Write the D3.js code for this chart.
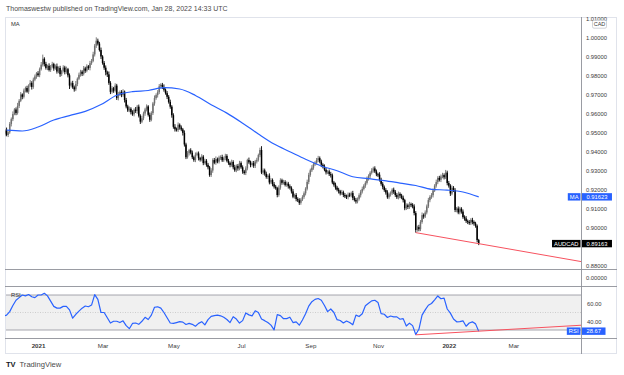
<!DOCTYPE html>
<html>
<head>
<meta charset="utf-8">
<script src="https://cdn.jsdelivr.net/npm/d3@7"></script>
<style>
  body { margin: 0; background: #fff; }
  text { font-family: "Liberation Sans", Arial, sans-serif; }
</style>
</head>
<body>
<div id="chart"></div>
<script>
// Daily AUDCAD closes, one per weekday starting 2020-12-02
const first_day = '2020-12-02';
const closes = [
    0.9495, 0.9512, 0.9488, 0.9502, 0.9546, 0.9571, 0.9598, 0.9622, 0.9604, 0.9641,
    0.9668, 0.9701, 0.9689, 0.9722, 0.9735, 0.9716, 0.9748, 0.9762, 0.9741, 0.9779,
    0.9796, 0.9812, 0.9803, 0.9834, 0.9858, 0.9889, 0.9862, 0.9841, 0.9852, 0.9830,
    0.9847, 0.9861, 0.9838, 0.9849, 0.9822, 0.9841, 0.9808, 0.9825, 0.9843, 0.9819,
    0.9834, 0.9802, 0.9748, 0.9761, 0.9739, 0.9728, 0.9756, 0.9784, 0.9805, 0.9821,
    0.9810, 0.9838, 0.9826, 0.9849, 0.9841, 0.9866, 0.9878, 0.9912, 0.9958, 0.9984,
    0.9969, 0.9935, 0.9901, 0.9867, 0.9842, 0.9818, 0.9807, 0.9762, 0.9715, 0.9734,
    0.9721, 0.9748, 0.9682, 0.9701, 0.9714, 0.9698, 0.9716, 0.9672, 0.9638, 0.9617,
    0.9626, 0.9608, 0.9597, 0.9621, 0.9614, 0.9637, 0.9589, 0.9558, 0.9576, 0.9601,
    0.9622, 0.9638, 0.9594, 0.9568, 0.9603, 0.9654, 0.9682, 0.9698, 0.9713, 0.9744,
    0.9752, 0.9741, 0.9726, 0.9708, 0.9689, 0.9662, 0.9637, 0.9592, 0.9531, 0.9518,
    0.9514, 0.9542, 0.9528, 0.9517, 0.9499, 0.9438, 0.9371, 0.9392, 0.9408, 0.9395,
    0.9371, 0.9356, 0.9384, 0.9391, 0.9366, 0.9358, 0.9374, 0.9340, 0.9352, 0.9331,
    0.9318, 0.9277, 0.9301, 0.9356, 0.9342, 0.9361, 0.9348, 0.9369, 0.9372, 0.9355,
    0.9366, 0.9378, 0.9352, 0.9341, 0.9330, 0.9346, 0.9318, 0.9302, 0.9325, 0.9312,
    0.9340, 0.9318, 0.9296, 0.9288, 0.9312, 0.9356, 0.9344, 0.9330, 0.9340, 0.9326,
    0.9348, 0.9357, 0.9382, 0.9409, 0.9290, 0.9302, 0.9284, 0.9267, 0.9274, 0.9238,
    0.9251, 0.9229, 0.9216, 0.9208, 0.9172, 0.9211, 0.9250, 0.9236, 0.9241, 0.9225,
    0.9232, 0.9218, 0.9210, 0.9191, 0.9163, 0.9172, 0.9151, 0.9144, 0.9131, 0.9148,
    0.9162, 0.9181, 0.9205, 0.9241, 0.9278, 0.9302, 0.9316, 0.9333, 0.9342, 0.9356,
    0.9366, 0.9348, 0.9331, 0.9322, 0.9305, 0.9291, 0.9296, 0.9282, 0.9276, 0.9238,
    0.9226, 0.9211, 0.9200, 0.9192, 0.9180, 0.9187, 0.9172, 0.9165, 0.9161, 0.9174,
    0.9170, 0.9182, 0.9157, 0.9146, 0.9138, 0.9152, 0.9171, 0.9190, 0.9204, 0.9221,
    0.9236, 0.9258, 0.9271, 0.9289, 0.9301, 0.9312, 0.9296, 0.9281, 0.9279, 0.9252,
    0.9231, 0.9214, 0.9198, 0.9185, 0.9160, 0.9176, 0.9181, 0.9200, 0.9189, 0.9172,
    0.9160, 0.9178, 0.9169, 0.9158, 0.9145, 0.9102, 0.9118, 0.9109, 0.9124, 0.9120,
    0.9112, 0.9077, 0.8988, 0.9003, 0.8992, 0.9030, 0.9066, 0.9059, 0.9080, 0.9112,
    0.9145, 0.9162, 0.9171, 0.9196, 0.9221, 0.9240, 0.9262, 0.9252, 0.9270, 0.9277,
    0.9265, 0.9290, 0.9235, 0.9221, 0.9180, 0.9210, 0.9198, 0.9093, 0.9101, 0.9080,
    0.9100, 0.9085, 0.9056, 0.9049, 0.9035, 0.9030, 0.9024, 0.9041, 0.9030, 0.9022,
    0.9010, 0.8935, 0.89163
];

// wick lengths above / below the body, in pips
const wick_up = [
    12, 8, 15, 6, 10, 9, 14, 7, 11, 16,   9, 13, 6, 10, 8, 12, 7, 15, 9, 11,
    10, 7, 12, 9, 14, 22, 8, 11, 6, 13,   9, 12, 7, 10, 15, 8, 11, 6, 12, 9,
    14, 7, 10, 8, 12, 9, 16, 7, 11, 10,   8, 13, 9, 11, 7, 12, 10, 14, 9, 18,
    11, 9, 13, 7, 10, 12, 8, 15, 9, 11,   7, 12, 9, 14, 8, 10, 13, 6, 11, 9,
    12, 8, 10, 7, 14, 9, 11, 8, 13, 10,   9, 11, 7, 12, 10, 8, 14, 9, 11, 12,
    8, 10, 13, 7, 11, 9, 12, 8, 10, 14,   9, 12, 7, 10, 8, 13, 9, 11, 7, 10,
    11, 8, 12, 9, 10, 7, 13, 8, 11, 9,    10, 7, 12, 9, 11, 14, 8, 10, 9, 12,
    8, 11, 9, 10, 7, 12, 9, 13, 8, 10,    12, 9, 10, 8, 11, 7, 13, 9, 10, 11,
    9, 11, 8, 12, 20, 10, 9, 11, 8, 12,   10, 8, 11, 9, 7, 12, 10, 8, 11, 9,
    11, 9, 10, 8, 12, 7, 10, 9, 11, 8,    9, 10, 8, 12, 11, 9, 13, 10, 8, 11,
    12, 9, 10, 8, 11, 9, 7, 10, 12, 9,    8, 11, 9, 10, 7, 12, 8, 10, 9, 11,
    10, 8, 12, 9, 11, 7, 10, 9, 12, 8,    9, 11, 10, 8, 12, 9, 11, 10, 8, 13,
    11, 9, 8, 10, 12, 9, 10, 8, 11, 9,    10, 12, 8, 9, 11, 7, 10, 9, 12, 8,
    9, 11, 10, 8, 12, 10, 14, 9, 11, 10,  12, 9, 11, 10, 8, 13, 9, 11, 10, 12,
    9, 14, 10, 11, 8, 12, 9, 10, 8, 11,   10, 8, 11, 9, 12, 8, 10, 9, 11, 8,
    9, 7, 6
];
const wick_down = [
    9, 14, 7, 11, 8, 13, 10, 6, 12, 9,    11, 7, 13, 9, 10, 6, 12, 8, 14, 10,
    8, 12, 9, 11, 7, 10, 13, 9, 12, 8,    10, 8, 12, 7, 11, 9, 14, 10, 8, 12,
    9, 11, 18, 10, 8, 12, 9, 11, 7, 10,   12, 9, 11, 8, 10, 13, 9, 7, 11, 12,
    10, 8, 13, 9, 11, 16, 14, 10, 12, 9,  11, 9, 10, 12, 8, 11, 9, 13, 10, 8,
    9, 12, 8, 11, 10, 14, 9, 12, 8, 10,   12, 10, 9, 11, 8, 10, 12, 9, 13, 10,
    9, 11, 10, 8, 12, 9, 11, 13, 10, 12,  8, 10, 12, 9, 14, 11, 10, 8, 12, 9,
    10, 9, 11, 8, 12, 10, 9, 11, 8, 10,   11, 9, 10, 12, 8, 11, 9, 10, 12, 9,
    9, 11, 8, 10, 12, 9, 11, 8, 10, 12,   10, 8, 12, 9, 11, 10, 8, 12, 9, 11,
    12, 10, 9, 11, 8, 12, 10, 9, 11, 10,  9, 11, 10, 8, 12, 9, 11, 10, 9, 8,
    10, 12, 9, 11, 8, 10, 12, 9, 11, 10,  8, 10, 11, 9, 12, 10, 9, 11, 8, 10,
    11, 9, 12, 10, 8, 11, 9, 10, 12, 9,   10, 11, 9, 12, 10, 8, 11, 9, 10, 12,
    9, 10, 12, 8, 11, 10, 9, 12, 10, 8,   11, 9, 10, 12, 9, 11, 8, 10, 12, 9,
    10, 12, 9, 11, 8, 10, 12, 9, 11, 10,  9, 11, 14, 8, 12, 10, 9, 11, 10, 12,
    10, 12, 14, 9, 11, 10, 9, 12, 8, 10,  9, 11, 10, 12, 8, 10, 11, 9, 12, 10,
    11, 9, 12, 10, 13, 9, 10, 11, 12, 9,  10, 11, 9, 12, 10, 11, 9, 10, 12, 11,
    10, 12, 8
];

// moving average, read every 10th bar starting at bar 2
const ma_step = 10;
const ma_offset = 2;
const ma_values = [
    0.9513, 0.9509, 0.9530, 0.9567, 0.9590, 0.9612, 0.9648, 0.9697, 0.9716, 0.9722,
    0.9737, 0.9730, 0.9696, 0.9647, 0.9603, 0.9550, 0.9493, 0.9440, 0.9400, 0.9360,
    0.9325, 0.9300, 0.9268, 0.9258, 0.9248, 0.9235, 0.9222, 0.9202, 0.9198, 0.9188,
    0.91623
];

// RSI, read every 2nd bar starting at bar 0
const rsi_step = 2;
const rsi_values = [
    46, 47, 51, 58, 64, 67, 70, 69, 70.5, 68,
    67, 70, 70, 72, 69, 63, 57, 55, 55, 57,
    57, 53, 43.5, 48, 51.5, 55, 57.4, 56.6, 58.5, 70.5,
    65, 50, 50, 44, 38, 40, 40, 38.5, 40.5, 35,
    31.5, 37.5, 38, 36.5, 40, 44.5, 42, 47, 56, 56.5,
    55, 50, 44, 38, 37.5, 38.5, 39.5, 39, 36.3, 37.5,
    36.5, 34.3, 37.6, 39.5, 35.8, 41.8, 45.5, 46.5, 47, 46.2,
    44.5, 42, 38.5, 45.2, 42.5, 38, 40.7, 49.5, 47.3, 46.2,
    52, 50, 42.5, 40.7, 38.5, 35.6, 30.2, 47.5, 46.5, 42.9,
    43, 44.6, 38.5, 39.3, 35.5, 41.5, 48.5, 57.3, 62.4, 65,
    66, 64, 58, 51, 54, 50, 41.8, 40.9, 38, 40.3,
    38.6, 36, 47, 45.4, 48.5, 57.7, 60.5, 63.3, 64, 61.5,
    48.7, 48, 44.3, 46, 45, 45, 42.3, 43, 34.5, 37.8,
    35, 24.8, 30.8, 47, 53, 58.3, 60.3, 64.5, 68.9, 65.7,
    66.5, 54, 49.3, 42.5, 39.4, 39.5, 40.5, 34.3, 38, 39.3,
    37, 28.67
];

// 0.89 sits under the last price tag, so it is left out
const price_ticks = [1.01, 1.00, 0.99, 0.98, 0.97, 0.96, 0.95, 0.94, 0.93, 0.92, 0.91, 0.90, 0.88];
const rsi_ticks = [60, 40];
const tick_dates = ['2021-01-01', '2021-03-01', '2021-05-03', '2021-07-01', '2021-09-01', '2021-11-01', '2022-01-03', '2022-03-01'];
const tick_labels = ['2021', 'Mar', 'May', 'Jul', 'Sep', 'Nov', '2022', 'Mar'];

// hand-drawn trend lines (start, end) - extended to the axis
const trend_dates = ['2021-12-03', '2022-01-28'];
const price_trend = [0.8974, 0.8916];
const rsi_trend = [24.5, 28.67];

const chart_width = 624;
const chart_height = 375;
const frame = { left: 5, top: 17, right: 617, bottom: 354 };
const axis_x = 581;
const price_pane = { top: 17, bottom: 269 };
const small_pane = { top: 269, bottom: 286 };
const rsi_pane = { top: 286, bottom: 338 };
const blue = '#2962ff';
const red = '#f7525f';
const line_gray = '#8f9199';
const label_color = '#3a3a3a';
const up_color = '#6e6e6e';
const down_color = '#000';

// trading days
const parse = d3.timeParse('%Y-%m-%d');
const fmt = d3.timeFormat('%Y-%m-%d');
const all_days = d3.timeDay.range(parse(first_day), parse('2022-04-01'))
    .filter(d => d.getDay() !== 0 && d.getDay() !== 6);
const bar_of = s => all_days.findIndex(d => fmt(d) === s);

const bars = closes.map((c, i) => {
    const open = i ? closes[i - 1] : c;
    return {
        i: i,
        open: open,
        close: c,
        high: Math.max(open, c) + wick_up[i] / 10000,
        low: Math.min(open, c) - wick_down[i] / 10000
    };
});

const svg = d3.select('#chart')
    .append('svg')
    .attr('width', chart_width)
    .attr('height', chart_height)
    .style('display', 'block');

// Scales
const x_scale = d3.scaleLinear()
    .domain([1, 367])
    .range([frame.left, axis_x]);

const y_scale = d3.scaleLinear()
    .domain([0.87826, 1.01089])
    .range([price_pane.bottom, price_pane.top]);

const small_scale = d3.scaleLinear()
    .domain([-1, 1])
    .range([small_pane.bottom, small_pane.top]);

const rsi_scale = d3.scaleLinear()
    .domain([20.86, 80.29])
    .range([rsi_pane.bottom, rsi_pane.top]);

// Header
svg.append('text')
    .attr('x', 6)
    .attr('y', 11.3)
    .attr('font-size', 7)
    .attr('fill', '#4a4a4a')
    .text('Thomaswestw published on TradingView.com, Jan 28, 2022 14:33 UTC');

// Clip paths
const defs = svg.append('defs');
defs.append('clipPath')
    .attr('id', 'price-clip')
    .append('rect')
    .attr('x', frame.left)
    .attr('y', price_pane.top)
    .attr('width', axis_x - frame.left)
    .attr('height', price_pane.bottom - price_pane.top);
defs.append('clipPath')
    .attr('id', 'rsi-clip')
    .append('rect')
    .attr('x', frame.left)
    .attr('y', rsi_pane.top)
    .attr('width', axis_x - frame.left)
    .attr('height', rsi_pane.bottom - rsi_pane.top);
defs.append('clipPath')
    .attr('id', 'frame-clip')
    .append('rect')
    .attr('x', frame.left)
    .attr('y', frame.top)
    .attr('width', frame.right - frame.left)
    .attr('height', frame.bottom - frame.top);

// RSI band
svg.append('rect')
    .attr('x', frame.left)
    .attr('y', rsi_scale(70))
    .attr('width', axis_x - frame.left)
    .attr('height', rsi_scale(30) - rsi_scale(70))
    .attr('fill', '#f0f0f0');

[70, 30].forEach(v => {
    svg.append('line')
        .attr('x1', frame.left).attr('x2', axis_x)
        .attr('y1', rsi_scale(v)).attr('y2', rsi_scale(v))
        .attr('stroke', line_gray)
        .attr('stroke-width', 0.8);
});
svg.append('line')
    .attr('x1', frame.left).attr('x2', axis_x)
    .attr('y1', rsi_scale(50)).attr('y2', rsi_scale(50))
    .attr('stroke', '#c4c4c4')
    .attr('stroke-width', 0.8)
    .attr('stroke-dasharray', '1 1.5');

// Frame and separators
svg.append('rect')
    .attr('x', frame.left + 0.5)
    .attr('y', frame.top + 0.5)
    .attr('width', frame.right - frame.left - 1)
    .attr('height', frame.bottom - frame.top - 1)
    .attr('fill', 'none')
    .attr('stroke', '#e0e3eb');

[price_pane.bottom, small_pane.bottom, rsi_pane.bottom].forEach(y => {
    svg.append('line')
        .attr('x1', frame.left).attr('x2', frame.right)
        .attr('y1', y + 0.5).attr('y2', y + 0.5)
        .attr('stroke', line_gray)
        .attr('stroke-width', 0.9);
});

svg.append('line')
    .attr('x1', axis_x + 0.5).attr('x2', axis_x + 0.5)
    .attr('y1', frame.top).attr('y2', frame.bottom)
    .attr('stroke', line_gray)
    .attr('stroke-width', 0.9);

// Candles
const candles = svg.append('g')
    .attr('clip-path', 'url(#price-clip)')
    .selectAll('g')
    .data(bars)
    .enter()
    .append('g')
    .attr('fill', d => d.close >= d.open ? up_color : down_color)
    .attr('stroke', d => d.close >= d.open ? up_color : down_color);

candles.append('line')
    .attr('x1', d => x_scale(d.i))
    .attr('x2', d => x_scale(d.i))
    .attr('y1', d => y_scale(d.high))
    .attr('y2', d => y_scale(d.low))
    .attr('stroke-width', 0.9);

candles.append('rect')
    .attr('x', d => x_scale(d.i) - 0.75)
    .attr('width', 1.5)
    .attr('y', d => y_scale(Math.max(d.open, d.close)))
    .attr('height', d => Math.max(1, Math.abs(y_scale(d.open) - y_scale(d.close))))
    .attr('stroke', 'none');

// Moving average
svg.append('path')
    .datum(ma_values)
    .attr('clip-path', 'url(#price-clip)')
    .attr('fill', 'none')
    .attr('stroke', blue)
    .attr('stroke-width', 1.2)
    .attr('d', d3.line()
        .x((d, k) => x_scale(ma_offset + k * ma_step))
        .y(d => y_scale(d))
        .curve(d3.curveMonotoneX));

// Trend lines
function trend_path(values, scale) {
    const b1 = bar_of(trend_dates[0]);
    const b2 = bar_of(trend_dates[1]);
    const slope = (values[1] - values[0]) / (b2 - b1);
    const end_bar = x_scale.domain()[1];
    return [[b1, values[0]], [end_bar, values[1] + slope * (end_bar - b2)]]
        .map(p => [x_scale(p[0]), scale(p[1])]);
}

svg.append('path')
    .datum(trend_path(price_trend, y_scale))
    .attr('clip-path', 'url(#price-clip)')
    .attr('fill', 'none')
    .attr('stroke', red)
    .attr('stroke-width', 1)
    .attr('d', d3.line());

// RSI
svg.append('path')
    .datum(rsi_values)
    .attr('clip-path', 'url(#rsi-clip)')
    .attr('fill', 'none')
    .attr('stroke', blue)
    .attr('stroke-width', 1.2)
    .attr('stroke-linejoin', 'round')
    .attr('d', d3.line()
        .x((d, k) => x_scale(k * rsi_step))
        .y(d => rsi_scale(d)));

svg.append('path')
    .datum(trend_path(rsi_trend, rsi_scale))
    .attr('clip-path', 'url(#rsi-clip)')
    .attr('fill', 'none')
    .attr('stroke', red)
    .attr('stroke-width', 1)
    .attr('d', d3.line());

// Pane titles
svg.append('text')
    .attr('x', 11).attr('y', 26.3)
    .attr('font-size', 5.8).attr('fill', '#333')
    .text('MA');
svg.append('text')
    .attr('x', 11).attr('y', 297.2)
    .attr('font-size', 5.8).attr('fill', '#333')
    .text('RSI');

// Axes
function style_axis(g) {
    g.select('.domain').remove();
    g.selectAll('text')
        .attr('font-size', 5.8)
        .attr('fill', label_color)
        .style('font-family', '"Liberation Sans", Arial, sans-serif');
}

svg.append('g')
    .attr('clip-path', 'url(#frame-clip)')
    .append('g')
    .attr('transform', `translate(${axis_x}, 0)`)
    .call(d3.axisRight(y_scale)
        .tickValues(price_ticks)
        .tickFormat(d3.format('.5f'))
        .tickSize(0)
        .tickPadding(5))
    .call(style_axis);

svg.append('g')
    .attr('transform', `translate(${axis_x}, 0)`)
    .call(d3.axisRight(small_scale)
        .tickValues([0])
        .tickFormat(d3.format('.5f'))
        .tickSize(0)
        .tickPadding(5))
    .call(style_axis);

svg.append('g')
    .attr('transform', `translate(${axis_x}, 0)`)
    .call(d3.axisRight(rsi_scale)
        .tickValues(rsi_ticks)
        .tickFormat(d3.format('.2f'))
        .tickSize(0)
        .tickPadding(6))
    .call(style_axis);

svg.append('g')
    .attr('transform', `translate(0, ${rsi_pane.bottom})`)
    .call(d3.axisBottom(x_scale)
        .tickValues(tick_dates.map(bar_of))
        .tickFormat((d, k) => tick_labels[k])
        .tickSize(0)
        .tickPadding(6))
    .call(style_axis)
    .selectAll('text')
    .attr('font-size', 6.2)
    .attr('font-weight', (d, k) => /^\d{4}$/.test(tick_labels[k]) ? 'bold' : 'normal');

// Currency box
svg.append('rect')
    .attr('x', 592.5).attr('y', 20.2)
    .attr('width', 14).attr('height', 8)
    .attr('rx', 1.5)
    .attr('fill', '#fff')
    .attr('stroke', '#b2b5be')
    .attr('stroke-width', 0.6);
svg.append('text')
    .attr('x', 599.5).attr('y', 26.2)
    .attr('text-anchor', 'middle')
    .attr('font-size', 5.5)
    .attr('fill', label_color)
    .text('CAD');

// Last value tags
function add_tag(y, name, value, color) {
    const g = svg.append('g').attr('transform', `translate(0, ${y})`);
    const name_text = g.append('text')
        .attr('x', axis_x - 2.5)
        .attr('dy', '0.35em')
        .attr('text-anchor', 'end')
        .attr('font-size', 5.8)
        .attr('fill', '#fff')
        .text(name);
    const value_text = g.append('text')
        .attr('x', axis_x + 5.5)
        .attr('dy', '0.35em')
        .attr('font-size', 5.8)
        .attr('fill', '#fff')
        .text(value);
    const nw = name_text.node().getComputedTextLength();
    const vw = value_text.node().getComputedTextLength();
    g.insert('rect', ':first-child')
        .attr('x', axis_x - 4.5 - nw)
        .attr('y', -3.7)
        .attr('width', nw + 4)
        .attr('height', 7.4)
        .attr('fill', color);
    g.insert('rect', ':first-child')
        .attr('x', axis_x + 1)
        .attr('y', -3.7)
        .attr('width', vw + 9)
        .attr('height', 7.4)
        .attr('fill', color);
}

const last_ma = ma_values[ma_values.length - 1];
const last_close = closes[closes.length - 1];
const last_rsi = rsi_values[rsi_values.length - 1];
add_tag(y_scale(last_ma), 'MA', d3.format('.5f')(last_ma), blue);
add_tag(y_scale(last_close), 'AUDCAD', d3.format('.5f')(last_close), '#000');
add_tag(rsi_scale(last_rsi), 'RSI', d3.format('.2f')(last_rsi), blue);

// Footer
svg.append('text')
    .attr('x', 6).attr('y', 367.3)
    .attr('font-size', 7.5)
    .attr('font-weight', 900)
    .attr('fill', '#131722')
    .text('TV');
svg.append('text')
    .attr('x', 19.5).attr('y', 367.3)
    .attr('font-size', 7.6)
    .attr('fill', '#4a4a4a')
    .text('TradingView');
</script>
</body>
</html>
